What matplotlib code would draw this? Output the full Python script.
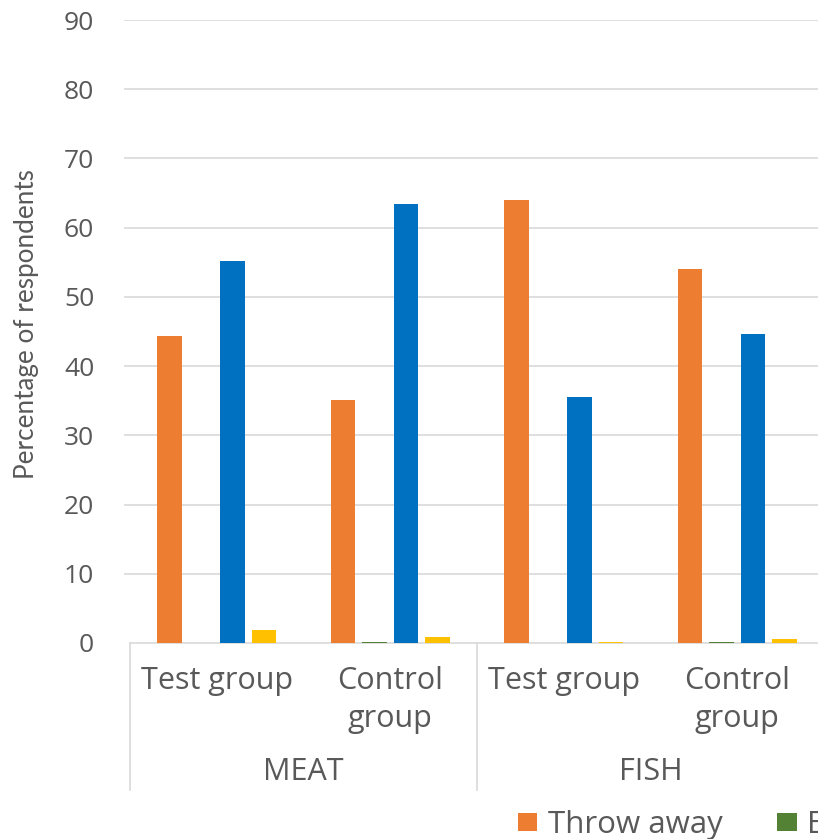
import matplotlib
matplotlib.use("Agg")
import matplotlib.pyplot as plt
from matplotlib.patches import Patch
from matplotlib.lines import Line2D
import numpy as np

# ---- data -------------------------------------------------------------
groups = ["MEAT", "FISH"]
subgroups = ["Test group", "Control\ngroup"]
series_names = ["Throw away", "Eat", "Smell and taste", "Other"]
throw_away = [44.3, 35.1, 64.0, 54.1]
eat = [0.0, 0.2, 0.0, 0.2]
smell_taste = [55.2, 63.4, 35.5, 44.6]
other = [1.9, 0.8, 0.2, 0.6]
yticks = [0, 10, 20, 30, 40, 50, 60, 70, 80, 90]

colors = ["#ED7D31", "#548235", "#0070C0", "#FFC000"]
text_color = "#595959"
grid_color = "#D9D9D9"
font = "Open Sans"

W, H = 818, 839
fig = plt.figure(figsize=(W / 100, H / 100), dpi=100)

# axes box in pixels: left 124, top 20 (y=90), bottom 643 (y=0); extends past the right edge
cat_px = 173.5
x_left = -0.535
x_right = 3.7
ax_left_px = 124
ax_w_px = (x_right - x_left) * cat_px
ax = fig.add_axes([ax_left_px / W, (H - 643) / H, ax_w_px / W, (643 - 20) / H])

series = [throw_away, eat, smell_taste, other]
n = len(series)
slot = 0.1816
bar_w = 0.1406
x = np.arange(len(throw_away))
for k, (vals, c) in enumerate(zip(series, colors)):
    ax.bar(x + (k - (n - 1) / 2) * slot, vals, width=bar_w, color=c, zorder=3)

ax.set_xlim(x_left, x_right)
ax.set_ylim(0, 90)
ax.set_yticks(yticks)
ax.set_yticklabels([str(t) for t in yticks], fontsize=19, color=text_color, family=font)
ax.tick_params(axis="y", length=0, pad=21.5)
ax.set_xticks([])
for s in ax.spines.values():
    s.set_visible(False)

ax.grid(axis="y", color=grid_color, linewidth=1.2, zorder=0)
ax.yaxis.get_gridlines()[0].set_visible(False)
ax.plot([-0.5, x_right], [0, 0], color=grid_color, linewidth=1.2, zorder=2, clip_on=False)

# multi-level category axis
ax_h_px = 643 - 20
def ay(px_y):
    return -(px_y - 643) / ax_h_px

trans = ax.get_xaxis_transform()
for xb in [-0.5, 1.5, 3.5]:
    ax.add_line(Line2D([xb, xb], [0, ay(790)], transform=trans, color=grid_color,
                       linewidth=1.2, clip_on=False))

n_sub = len(subgroups)
for g, gname in enumerate(groups):
    for s, sname in enumerate(subgroups):
        xi = g * n_sub + s
        lines = sname.split("\n")
        for li, line in enumerate(lines):
            ax.text(xi, ay(689 + li * 38), line, transform=trans, ha="center", va="baseline",
                    fontsize=22, color=text_color, family=font)
    ax.text(g * n_sub + (n_sub - 1) / 2, ay(780), gname, transform=trans, ha="center",
            va="baseline", fontsize=22, color=text_color, family=font)

fig.text(27 / W, 1 - 324 / H, "Percentage of respondents", rotation=90, ha="center",
         va="center", fontsize=18.8, color=text_color, family="Lato")

handles = [Patch(facecolor=c, edgecolor="none") for c in colors]
leg = fig.legend(handles, series_names, loc="center left", bbox_to_anchor=(518 / W, 1 - 825 / H),
                 ncol=4, frameon=False, borderpad=0, borderaxespad=0,
                 prop={"family": font, "size": 22.5}, handlelength=0.61, handleheight=0.51,
                 handletextpad=0.35, columnspacing=1.75)
for t in leg.get_texts():
    t.set_color(text_color)

fig.savefig("out.png", dpi=100)
